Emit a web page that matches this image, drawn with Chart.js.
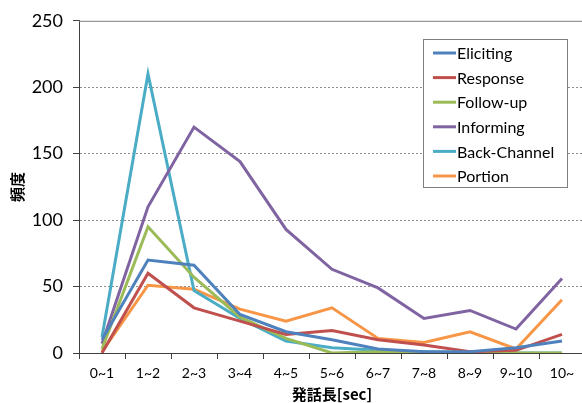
<!DOCTYPE html>
<html>
<head>
<meta charset="utf-8">
<script src="https://cdn.jsdelivr.net/npm/chart.js@4.4.1/dist/chart.umd.min.js"></script>
<style>
  html, body { margin: 0; padding: 0; background: #fff; overflow: hidden; }
  #wrap { width: 590px; height: 403px; }
</style>
</head>
<body>
<div id="wrap"><canvas id="chart" width="590" height="403"></canvas></div>
<script>
// ============================================================================
// 発話長 HISTOGRAM (LINE CHART)
// ============================================================================

const categories = ['0~1', '1~2', '2~3', '3~4', '4~5', '5~6', '6~7', '7~8', '8~9', '9~10', '10~'];

const eliciting    = [10, 70, 66, 29, 16, 10, 3, 1, 1, 4, 9];
const response     = [0, 60, 34, 24, 14, 17, 10, 6, 1, 2, 14];
const followUp     = [3, 95, 57, 27, 11, 0, 1, 0, 0, 0, 0];
const informing    = [7, 110, 170, 144, 93, 63, 49, 26, 32, 18, 56];
const backChannel  = [12, 210, 47, 26, 9, 4, 2, 1, 0, 0, 0];
const portion      = [1, 51, 48, 33, 24, 34, 11, 8, 16, 3, 40];

const yTicks = [0, 50, 100, 150, 200, 250];

const FONT = 'Lato, "Open Sans", "Liberation Sans", sans-serif';
const JP_FONT = '"Noto Sans CJK JP", ' + FONT;

function series(label, data, color) {
    return {
        label: label,
        data: data,
        borderColor: color,
        backgroundColor: color,
        borderWidth: 3,
        pointRadius: 0,
        tension: 0,
        fill: false
    };
}

// legend box drawn by hand to match the Excel-style boxed legend
const boxLegend = {
    id: 'boxLegend',
    afterDraw(chart) {
        const ctx = chart.ctx;
        const area = chart.chartArea;
        ctx.save();
        // solid top border of the plot
        ctx.strokeStyle = '#808080';
        ctx.lineWidth = 1;
        ctx.beginPath();
        ctx.moveTo(area.left, area.top + 0.5);
        ctx.lineTo(area.right, area.top + 0.5);
        ctx.stroke();

        const x0 = 423, y0 = 39, w = 144, h = 148;
        ctx.fillStyle = '#fff';
        ctx.fillRect(x0, y0, w, h);
        ctx.strokeStyle = '#7f7f7f';
        ctx.strokeRect(x0 + 0.5, y0 + 0.5, w, h);
        ctx.font = '16px ' + FONT;
        ctx.textBaseline = 'middle';
        chart.data.datasets.forEach((ds, i) => {
            const y = y0 + 14 + i * 24.6;
            ctx.strokeStyle = ds.borderColor;
            ctx.lineWidth = 3;
            ctx.beginPath();
            ctx.moveTo(x0 + 10, y);
            ctx.lineTo(x0 + 33, y);
            ctx.stroke();
            ctx.fillStyle = '#000';
            ctx.fillText(ds.label, x0 + 34, y + 1);
        });
        ctx.restore();
    }
};

const ctx = document.getElementById('chart').getContext('2d');
new Chart(ctx, {
    type: 'line',
    data: {
        labels: categories,
        datasets: [
            series('Eliciting', eliciting, '#4F81BD'),
            series('Response', response, '#C0504D'),
            series('Follow-up', followUp, '#9BBB59'),
            series('Informing', informing, '#8064A2'),
            series('Back-Channel', backChannel, '#4BACC6'),
            series('Portion', portion, '#F79646')
        ]
    },
    options: {
        responsive: false,
        animation: false,
        layout: { padding: { top: 20, right: 5, left: 0, bottom: 0 } },
        plugins: {
            legend: { display: false },
            tooltip: { enabled: false }
        },
        scales: {
            x: {
                type: 'category',
                offset: true,
                grid: {
                    offset: true,
                    drawOnChartArea: false,
                    drawTicks: true,
                    tickLength: 6,
                    tickColor: '#404040'
                },
                border: { color: '#404040', width: 1 },
                ticks: {
                    color: '#000',
                    font: { family: FONT, size: 14 },
                    padding: 6,
                    maxRotation: 0,
                    autoSkip: false
                },
                title: {
                    display: true,
                    text: '発話長[sec]',
                    color: '#000',
                    font: { family: JP_FONT, size: 15, weight: 'bold' },
                    padding: { top: 0, bottom: 0 }
                },
                afterFit: s => { s.height = 50; }
            },
            y: {
                min: 0,
                max: 250,
                afterBuildTicks: s => { s.ticks = yTicks.map(v => ({ value: v })); },
                grid: {
                    color: c => (c.tick && (c.tick.value === 0 || c.tick.value === 250)) ? 'rgba(0,0,0,0)' : '#8c8c8c',
                    lineWidth: 1,
                    drawTicks: true,
                    tickLength: 6,
                    tickColor: '#404040'
                },
                border: { color: '#404040', width: 1, dash: [2, 2] },
                ticks: {
                    color: '#000',
                    font: { family: FONT, size: 18 },
                    padding: 10
                },
                title: {
                    display: true,
                    text: '頻度',
                    color: '#000',
                    font: { family: JP_FONT, size: 15, weight: 'bold' },
                    padding: { top: 8, bottom: 0 }
                },
                afterFit: s => { s.width = 79; }
            }
        }
    },
    plugins: [boxLegend]
});
</script>
</body>
</html>
